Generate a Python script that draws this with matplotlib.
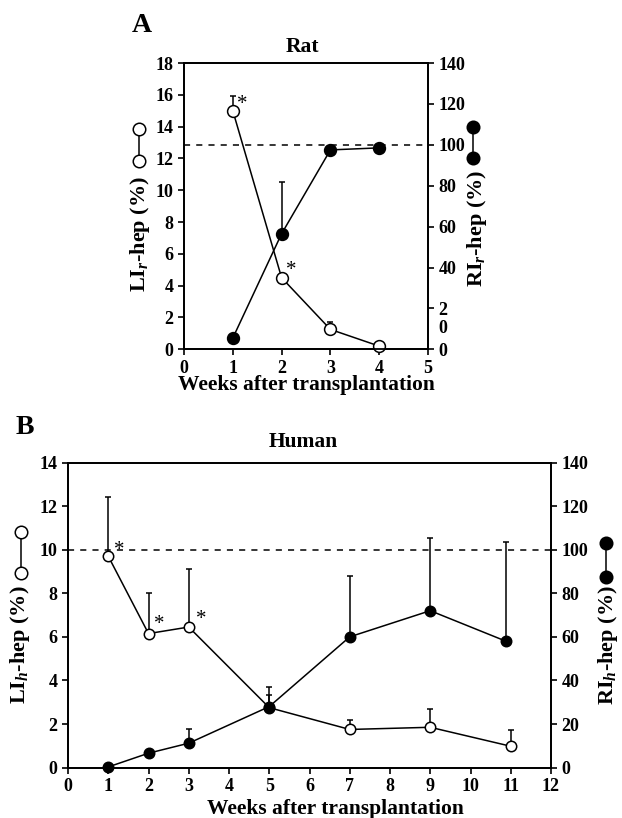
import matplotlib
matplotlib.use('Agg')
import matplotlib.pyplot as plt
from matplotlib.lines import Line2D

plt.rcParams['font.family'] = ['Liberation Serif', 'DejaVu Serif']
plt.rcParams['font.weight'] = 'bold'
plt.rcParams['mathtext.fontset'] = 'custom'
plt.rcParams['mathtext.rm'] = 'Liberation Serif:bold'
plt.rcParams['mathtext.it'] = 'Liberation Serif:italic:bold'
plt.rcParams['mathtext.bf'] = 'Liberation Serif:bold'

# Panel A - rat
weeks_rat = [1, 2, 3, 4]
li_rat = [15.0, 4.5, 1.25, 0.2]
li_rat_err = [0.9, 0.0, 0.45, 0.0]
ri_rat = [5.5, 56.5, 97.5, 98.5]
ri_rat_err = [0.0, 25.5, 0.0, 1.5]
rat_star_x = [1.2, 2.19]
rat_star_y = [15.4, 4.95]

# Panel B - human
weeks_h = [1, 2, 3, 5, 7, 9, 11]
li_h = [9.7, 6.15, 6.45, 2.75, 1.75, 1.85, 0.98]
li_h_err = [2.7, 1.85, 2.65, 0.6, 0.45, 0.85, 0.75]
weeks_h_ri = [1, 2, 3, 5, 7, 9, 10.88]
ri_h = [0.3, 6.6, 11.2, 28, 60, 72, 58]
ri_h_err = [0.0, 0.0, 6.4, 9.0, 28.0, 33.5, 45.5]
h_star_x = [1.27, 2.27, 3.3]
h_star_y = [9.95, 6.57, 6.8]

W, H = 622, 818
fig = plt.figure(figsize=(W / 100, H / 100), dpi=100)


def fx(px):
    return px / W


def fy(py):
    return 1 - py / H


def style(ax):
    for s in ax.spines.values():
        s.set_linewidth(1.3)
    ax.tick_params(direction='out', length=4.5, width=1.2, labelsize=13, pad=3)


def series(ax, x, y, err, face, ms):
    ax.errorbar(x, y, yerr=[[0] * len(err), err], fmt='-o', color='black',
                mfc=face, mec='black', ms=ms, mew=1.1, lw=1.1,
                elinewidth=1.1, capsize=2.5, capthick=1.1, clip_on=False)


def glyph(xp, y1, y2, face, ms):
    fig.add_artist(Line2D([fx(xp), fx(xp)], [fy(y1), fy(y2)], transform=fig.transFigure,
                          color='black', lw=1.1, marker='o', mfc=face, mec='black',
                          ms=ms, mew=1.1))


# ---- panel A
axA = fig.add_axes([fx(184), fy(349.3), fx(428 - 184), (349.3 - 63) / H])
axA2 = axA.twinx()
axA.set_xlim(0, 5)
axA.set_ylim(0, 18)
axA2.set_ylim(0, 140)
axA.set_xticks(range(0, 6))
axA.set_yticks(range(0, 19, 2))
axA2.set_yticks(range(0, 141, 20))
axA2.set_yticklabels(['0', '2', '40', '60', '80', '100', '120', '140'])
style(axA)
style(axA2)
axA2.annotate('0', xy=(1, 10), xycoords=('axes fraction', 'data'), xytext=(7.5, 0),
              textcoords='offset points', ha='left', va='center', fontsize=13)
axA2.axhline(100, color='black', lw=1.1, ls=(0, (4, 4)))
series(axA, weeks_rat, li_rat, li_rat_err, 'white', 8.5)
series(axA2, weeks_rat, ri_rat, ri_rat_err, 'black', 8.5)
axA.set_zorder(axA2.get_zorder() + 1)
axA.patch.set_visible(False)
for sx, sy in zip(rat_star_x, rat_star_y):
    axA.text(sx, sy, '*', fontsize=15, fontweight='normal', ha='center', va='center')

fig.text(fx(142), fy(25), 'A', fontsize=20, ha='center', va='center')
fig.text(fx(302), fy(47), 'Rat', fontsize=15.5, ha='center', va='center')
fig.text(fx(306), fy(385), 'Weeks after transplantation', fontsize=15.5, ha='center', va='center')
fig.text(fx(140), fy(234), r'LI$_{\mathit{r}}$-hep (%)', fontsize=16, rotation=90,
         ha='center', va='center')
fig.text(fx(477), fy(228), r'RI$_{\mathit{r}}$-hep (%)', fontsize=16, rotation=90,
         ha='center', va='center')
glyph(139, 129, 160.7, 'white', 9)
glyph(473, 127, 158, 'black', 9)

# ---- panel B
axB = fig.add_axes([fx(68), fy(767.6), fx(551 - 68), (767.6 - 462.5) / H])
axB2 = axB.twinx()
axB.set_xlim(0, 12)
axB.set_ylim(0, 14)
axB2.set_ylim(0, 140)
axB.set_xticks(range(0, 13))
axB.set_yticks(range(0, 15, 2))
axB2.set_yticks(range(0, 141, 20))
style(axB)
style(axB2)
axB2.axhline(100, color='black', lw=1.1, ls=(0, (4, 4)))
series(axB, weeks_h, li_h, li_h_err, 'white', 7.5)
series(axB2, weeks_h_ri, ri_h, ri_h_err, 'black', 7.5)
for sx, sy in zip(h_star_x, h_star_y):
    axB.text(sx, sy, '*', fontsize=15, fontweight='normal', ha='center', va='center')

fig.text(fx(25), fy(428), 'B', fontsize=20, ha='center', va='center')
fig.text(fx(303), fy(442), 'Human', fontsize=15.5, ha='center', va='center')
fig.text(fx(335), fy(809), 'Weeks after transplantation', fontsize=15.5, ha='center', va='center')
fig.text(fx(20), fy(645), r'LI$_{\mathit{h}}$-hep (%)', fontsize=16, rotation=90,
         ha='center', va='center')
fig.text(fx(608), fy(645), r'RI$_{\mathit{h}}$-hep (%)', fontsize=16, rotation=90,
         ha='center', va='center')
glyph(20.7, 531.7, 572.7, 'white', 9)
glyph(605.7, 542.7, 576.7, 'black', 9)

fig.savefig('out.png', dpi=100)
